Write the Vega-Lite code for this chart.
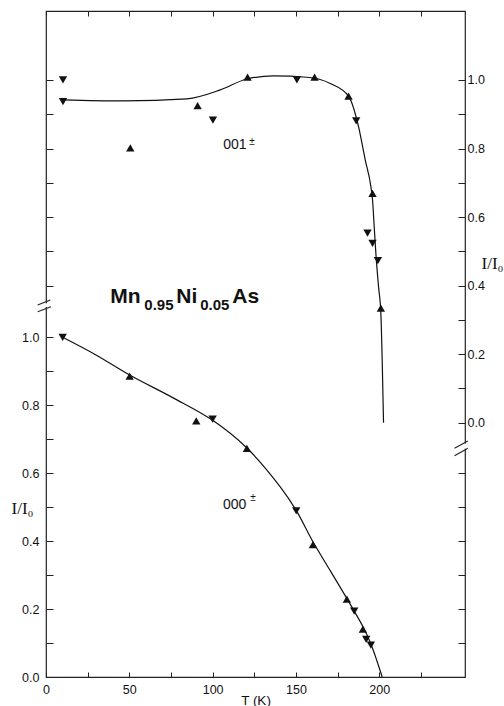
{
  "$schema": "https://vega.github.io/schema/vega-lite/v6.json",
  "width": 419,
  "height": 666,
  "autosize": {"type": "none"},
  "padding": {"left": 46, "top": 11, "right": 39, "bottom": 29},
  "background": "white",
  "config": {
    "view": {"stroke": "#222", "strokeWidth": 1.2},
    "axis": {
      "labelFont": "Liberation Sans",
      "labelFontSize": 12.5,
      "labelColor": "#111",
      "tickColor": "#222",
      "tickWidth": 1,
      "domain": false,
      "grid": false,
      "titleFont": "Liberation Sans",
      "titleColor": "#111",
      "titleFontWeight": "normal"
    }
  },
  "datasets": {
    "pts": [
      {"s": "000", "T": 10, "I": 1.0, "m": "down"},
      {"s": "000", "T": 50.2, "I": 0.886, "m": "up"},
      {"s": "000", "T": 90.2, "I": 0.754, "m": "up"},
      {"s": "000", "T": 100, "I": 0.759, "m": "down"},
      {"s": "000", "T": 120.6, "I": 0.673, "m": "up"},
      {"s": "000", "T": 150.2, "I": 0.489, "m": "down"},
      {"s": "000", "T": 160.2, "I": 0.39, "m": "up"},
      {"s": "000", "T": 180.6, "I": 0.229, "m": "up"},
      {"s": "000", "T": 185, "I": 0.194, "m": "down"},
      {"s": "000", "T": 190.2, "I": 0.141, "m": "up"},
      {"s": "000", "T": 192.2, "I": 0.111, "m": "down"},
      {"s": "000", "T": 195, "I": 0.094, "m": "down"},
      {"s": "001", "T": 10.2, "I": 1.0, "m": "down"},
      {"s": "001", "T": 10.2, "I": 0.937, "m": "down"},
      {"s": "001", "T": 50.6, "I": 0.802, "m": "up"},
      {"s": "001", "T": 91, "I": 0.925, "m": "up"},
      {"s": "001", "T": 100.2, "I": 0.883, "m": "down"},
      {"s": "001", "T": 121, "I": 1.008, "m": "up"},
      {"s": "001", "T": 150.6, "I": 1.0, "m": "down"},
      {"s": "001", "T": 161.2, "I": 1.008, "m": "up"},
      {"s": "001", "T": 181.6, "I": 0.953, "m": "up"},
      {"s": "001", "T": 186.2, "I": 0.881, "m": "down"},
      {"s": "001", "T": 196, "I": 0.669, "m": "up"},
      {"s": "001", "T": 193, "I": 0.553, "m": "down"},
      {"s": "001", "T": 196, "I": 0.523, "m": "down"},
      {"s": "001", "T": 199.2, "I": 0.473, "m": "down"},
      {"s": "001", "T": 201, "I": 0.334, "m": "up"}
    ],
    "curves": [
      {"s": "000", "T": 10, "I": 1.0},
      {"s": "000", "T": 30, "I": 0.948},
      {"s": "000", "T": 50.2, "I": 0.889},
      {"s": "000", "T": 76.6, "I": 0.821},
      {"s": "000", "T": 99.6, "I": 0.757},
      {"s": "000", "T": 120.6, "I": 0.674},
      {"s": "000", "T": 140.6, "I": 0.56},
      {"s": "000", "T": 150, "I": 0.492},
      {"s": "000", "T": 160.6, "I": 0.395},
      {"s": "000", "T": 170.6, "I": 0.313},
      {"s": "000", "T": 180.6, "I": 0.231},
      {"s": "000", "T": 190.6, "I": 0.145},
      {"s": "000", "T": 194.6, "I": 0.102},
      {"s": "000", "T": 198.6, "I": 0.048},
      {"s": "000", "T": 201.8, "I": 0.0},
      {"s": "001", "T": 10.2, "I": 0.942},
      {"s": "001", "T": 46.6, "I": 0.939},
      {"s": "001", "T": 84.6, "I": 0.945},
      {"s": "001", "T": 104.6, "I": 0.971},
      {"s": "001", "T": 120.6, "I": 1.003},
      {"s": "001", "T": 136.6, "I": 1.012},
      {"s": "001", "T": 156.6, "I": 1.008},
      {"s": "001", "T": 170.6, "I": 0.99},
      {"s": "001", "T": 181.6, "I": 0.953},
      {"s": "001", "T": 187.6, "I": 0.864},
      {"s": "001", "T": 191.6, "I": 0.767},
      {"s": "001", "T": 195, "I": 0.689},
      {"s": "001", "T": 196, "I": 0.65},
      {"s": "001", "T": 197, "I": 0.572},
      {"s": "001", "T": 198, "I": 0.494},
      {"s": "001", "T": 199.6, "I": 0.397},
      {"s": "001", "T": 201, "I": 0.319},
      {"s": "001", "T": 201.8, "I": 0.183},
      {"s": "001", "T": 202.6, "I": 0.0}
    ],
    "bigText": [
      {"T": 38.6, "I": 1.1, "text": "Mn"},
      {"T": 78.2, "I": 1.1, "text": "Ni"},
      {"T": 111.8, "I": 1.1, "text": "As"}
    ],
    "subText": [
      {"T": 59.0, "I": 1.08, "text": "0.95"},
      {"T": 92.6, "I": 1.08, "text": "0.05"}
    ],
    "lbl000": [{"T": 106.2, "I": 0.496, "text": "000"}],
    "pm000": [{"T": 122.6, "I": 0.528, "text": "±"}],
    "lbl001": [{"T": 106.4, "I": 0.798, "text": "001"}],
    "pm001": [{"T": 122, "I": 0.8205, "text": "±"}],
    "breakLeft": [
      {"T": -5.0, "T2": 2.6, "I": 1.0951, "I2": 1.1098},
      {"T": -5.0, "T2": 3.0, "I": 1.0754, "I2": 1.0901}
    ],
    "gapLeft": [{"T": 0, "I": 1.089, "I2": 1.1}],
    "breakRight": [
      {"T": 245.2, "T2": 253.2, "I": -0.0747, "I2": -0.0534},
      {"T": 245.2, "T2": 253.2, "I": -0.0963, "I2": -0.0747}
    ],
    "gapRight": [{"T": 251.5, "I": -0.076, "I2": -0.061}]
  },
  "layer": [
    {
      "encoding": {
        "x": {"field": "T", "type": "quantitative", "scale": {"domain": [0, 251.5], "nice": false, "zero": false},
          "axis": {"orient": "bottom", "values": [0, 25, 50, 75, 100, 125, 150, 175, 200, 225],
            "labelExpr": "datum.value % 50 === 0 ? datum.label : ''",
            "tickSize": -5, "labelPadding": 11, "labelFlush": false,
            "title": "T (K)", "titleFontSize": 13.5, "titleY": 23, "titleBaseline": "middle"}},
        "y": {"field": "I", "type": "quantitative", "scale": {"domain": [0, 1.9605], "nice": false, "zero": false},
          "axis": {"orient": "left",
            "values": [0, 0.1, 0.2, 0.3, 0.4, 0.5, 0.6, 0.7, 0.8, 0.9, 1.0, 1.1521, 1.253, 1.3539, 1.4548, 1.5557, 1.6566, 1.7574],
            "labelExpr": "datum.value <= 1.0001 && abs(datum.value*5 - round(datum.value*5)) < 0.001 ? format(datum.value, '.1f') : ''",
            "tickSize": -7, "labelPadding": 14, "labelFlush": false,
            "title": "I/I₀", "titleAngle": 0, "titleX": -24, "titleY": 497, "titleAlign": "center", "titleBaseline": "middle",
            "titleFont": "Liberation Serif", "titleFontSize": 17}}
      },
      "layer": [
        {
          "data": {"name": "gapLeft"},
          "mark": {"type": "rule", "color": "white", "strokeWidth": 4},
          "encoding": {"y2": {"field": "I2"}}
        },
        {
          "data": {"name": "breakLeft"},
          "mark": {"type": "rule", "color": "#222", "strokeWidth": 1.1},
          "encoding": {"x2": {"field": "T2"}, "y2": {"field": "I2"}}
        },
        {
          "data": {"name": "curves"},
          "transform": [{"filter": "datum.s === '000'"}],
          "mark": {"type": "line", "interpolate": "catmull-rom", "color": "#111", "strokeWidth": 1.2},
          "encoding": {}
        },
        {
          "data": {"name": "pts"},
          "transform": [{"filter": "datum.s === '000'"}],
          "mark": {"type": "point", "filled": true, "color": "#111", "size": 70, "opacity": 1},
          "encoding": {
            "shape": {"field": "m", "type": "nominal", "scale": {"domain": ["up", "down"], "range": ["triangle-up", "triangle-down"]}, "legend": null}
          }
        },
        {
          "data": {"name": "bigText"},
          "mark": {"type": "text", "align": "left", "baseline": "alphabetic", "font": "Liberation Sans", "fontWeight": "bold", "fontSize": 21, "color": "#111"},
          "encoding": {"text": {"field": "text"}}
        },
        {
          "data": {"name": "subText"},
          "mark": {"type": "text", "align": "left", "baseline": "alphabetic", "font": "Liberation Sans", "fontWeight": "bold", "fontSize": 15, "color": "#111"},
          "encoding": {"text": {"field": "text"}}
        },
        {
          "data": {"name": "lbl000"},
          "mark": {"type": "text", "align": "left", "baseline": "alphabetic", "font": "Liberation Sans", "fontSize": 14, "color": "#111"},
          "encoding": {"text": {"field": "text"}}
        },
        {
          "data": {"name": "pm000"},
          "mark": {"type": "text", "align": "left", "baseline": "middle", "font": "Liberation Sans", "fontSize": 10, "color": "#111"},
          "encoding": {"text": {"field": "text"}}
        }
      ]
    },
    {
      "encoding": {
        "x": {"field": "T", "type": "quantitative", "scale": {"domain": [0, 251.5], "nice": false, "zero": false},
          "axis": {"orient": "top", "values": [0, 25, 50, 75, 100, 125, 150, 175, 200, 225], "labels": false, "tickSize": -5, "title": null}},
        "y": {"field": "I", "type": "quantitative", "scale": {"domain": [-0.742, 1.2013], "nice": false, "zero": false},
          "axis": {"orient": "right",
            "values": [0, 0.1, 0.2, 0.3, 0.4, 0.5, 0.6, 0.7, 0.8, 0.9, 1.0, -0.1473, -0.2464, -0.3456, -0.4447, -0.5438, -0.6429],
            "labelExpr": "datum.value >= -0.0001 && abs(datum.value*5 - round(datum.value*5)) < 0.001 ? format(datum.value, '.1f') : ''",
            "tickSize": -7, "labelPadding": 9, "labelFlush": false,
            "title": "I/I₀", "titleAngle": 0, "titleX": 27, "titleY": 252, "titleAlign": "center", "titleBaseline": "middle",
            "titleFont": "Liberation Serif", "titleFontSize": 17}}
      },
      "layer": [
        {
          "data": {"name": "gapRight"},
          "mark": {"type": "rule", "color": "white", "strokeWidth": 4},
          "encoding": {"y2": {"field": "I2"}}
        },
        {
          "data": {"name": "breakRight"},
          "mark": {"type": "rule", "color": "#222", "strokeWidth": 1.1},
          "encoding": {"x2": {"field": "T2"}, "y2": {"field": "I2"}}
        },
        {
          "data": {"name": "curves"},
          "transform": [{"filter": "datum.s === '001'"}],
          "mark": {"type": "line", "interpolate": "monotone", "color": "#111", "strokeWidth": 1.2},
          "encoding": {}
        },
        {
          "data": {"name": "pts"},
          "transform": [{"filter": "datum.s === '001'"}],
          "mark": {"type": "point", "filled": true, "color": "#111", "size": 70, "opacity": 1},
          "encoding": {
            "shape": {"field": "m", "type": "nominal", "scale": {"domain": ["up", "down"], "range": ["triangle-up", "triangle-down"]}, "legend": null}
          }
        },
        {
          "data": {"name": "lbl001"},
          "mark": {"type": "text", "align": "left", "baseline": "alphabetic", "font": "Liberation Sans", "fontSize": 14, "color": "#111"},
          "encoding": {"text": {"field": "text"}}
        },
        {
          "data": {"name": "pm001"},
          "mark": {"type": "text", "align": "left", "baseline": "middle", "font": "Liberation Sans", "fontSize": 10, "color": "#111"},
          "encoding": {"text": {"field": "text"}}
        }
      ]
    }
  ],
  "resolve": {"scale": {"y": "independent"}, "axis": {"x": "independent", "y": "independent"}}
}
